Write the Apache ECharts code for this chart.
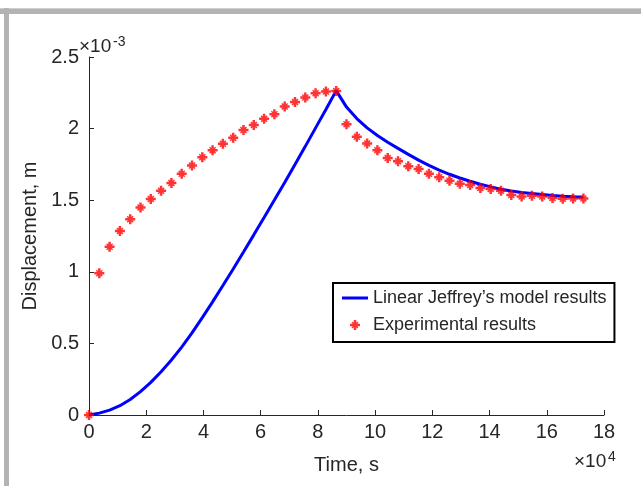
<!DOCTYPE html>
<html>
<head>
<meta charset="utf-8">
<script src="https://cdn.jsdelivr.net/npm/echarts@6/dist/echarts.min.js"></script>
<style>
  html, body { margin: 0; padding: 0; background: #fff; }
  #main { width: 641px; height: 486px; }
</style>
</head>
<body>
<div id="main"></div>
<script>
// time in units of 1e4 s (one point per hour)
var time = [0, 0.36, 0.72, 1.08, 1.44, 1.80, 2.16, 2.52, 2.88, 3.24, 3.60, 3.96, 4.32, 4.68, 5.04, 5.40, 5.76,
  6.12, 6.48, 6.84, 7.20, 7.56, 7.92, 8.28, 8.64, 9.00, 9.36, 9.72, 10.08, 10.44, 10.80, 11.16, 11.52, 11.88,
  12.24, 12.60, 12.96, 13.32, 13.68, 14.04, 14.40, 14.76, 15.12, 15.48, 15.84, 16.20, 16.56, 16.92, 17.28];

// displacement in units of 1e-3 m
var modelDisp = [0, 0.013, 0.034, 0.065, 0.108, 0.163, 0.228, 0.302, 0.384, 0.474, 0.573, 0.68, 0.79, 0.904,
  1.02, 1.138, 1.258, 1.379, 1.501, 1.624, 1.749, 1.876, 2.005, 2.134, 2.265, 2.15, 2.07, 2.005, 1.952, 1.905,
  1.862, 1.82, 1.78, 1.743, 1.71, 1.681, 1.655, 1.632, 1.611, 1.593, 1.577, 1.564, 1.554, 1.546, 1.539, 1.533,
  1.528, 1.524, 1.521];

var expDisp = [0, 0.99, 1.175, 1.285, 1.367, 1.449, 1.508, 1.566, 1.62, 1.685, 1.742, 1.80, 1.849, 1.894,
  1.936, 1.99, 2.025, 2.069, 2.10, 2.154, 2.186, 2.217, 2.247, 2.259, 2.263, 2.03, 1.943, 1.896, 1.849, 1.795,
  1.772, 1.737, 1.718, 1.685, 1.66, 1.636, 1.615, 1.606, 1.585, 1.578, 1.566, 1.536, 1.526, 1.531, 1.526,
  1.515, 1.51, 1.512, 1.512];

var seriesNames = ['Linear Jeffrey\u2019s model results', 'Experimental results'];

// bold asterisk marker (plus + shorter diagonals)
var asterisk = 'path://M7.5,0L12.5,0L12.5,20L7.5,20Z M0,7.5L20,7.5L20,12.5L0,12.5Z ' +
  'M3,5L5,3L17,15L15,17Z M15,3L17,5L5,17L3,15Z';
var lineIcon = 'path://M0,0L26,0L26,3L0,3Z';

function pairs(xs, ys) {
  return xs.map(function (x, i) { return [x, ys[i]]; });
}

var txt = '#262626';
var font = 'Liberation Sans, Arial, sans-serif';

var chart = echarts.init(document.getElementById('main'));
var option = {
  backgroundColor: '#fff',
  animation: false,
  textStyle: { fontFamily: font },
  grid: { left: 89, right: 37, top: 57, bottom: 71 },
  xAxis: {
    type: 'value',
    min: 0, max: 18, interval: 2,
    name: 'Time, s',
    nameLocation: 'middle',
    nameGap: 40,
    nameTextStyle: { color: txt, fontSize: 20, fontFamily: font },
    axisLine: { lineStyle: { color: txt, width: 1 } },
    axisTick: { inside: true, length: 5, lineStyle: { color: txt } },
    axisLabel: { color: txt, fontSize: 20, margin: 7, fontFamily: font },
    splitLine: { show: false }
  },
  yAxis: {
    type: 'value',
    min: 0, max: 2.5, interval: 0.5,
    name: 'Displacement, m',
    nameLocation: 'middle',
    nameGap: 46,
    nameTextStyle: { color: txt, fontSize: 20, fontFamily: font },
    axisLine: { show: true, lineStyle: { color: txt, width: 1 } },
    axisTick: { show: true, inside: true, length: 5, lineStyle: { color: txt } },
    axisLabel: { color: txt, fontSize: 20, margin: 10, fontFamily: font },
    splitLine: { show: false }
  },
  legend: {
    orient: 'vertical',
    left: 333, top: 283,
    padding: [6, 8, 8, 9],
    itemGap: 9,
    itemWidth: 26,
    itemHeight: 10,
    borderColor: '#000',
    borderWidth: 2,
    backgroundColor: '#fff',
    textStyle: { color: txt, fontSize: 18, fontFamily: font },
    data: [
      { name: seriesNames[0], icon: lineIcon },
      { name: seriesNames[1], icon: asterisk }
    ]
  },
  graphic: [
    { type: 'rect', shape: { x: 0, y: 8, width: 641, height: 6 }, style: { fill: '#b3b3b3' } },
    { type: 'rect', shape: { x: 0, y: 8, width: 641, height: 1 }, style: { fill: '#cfcfcf' } },
    { type: 'rect', shape: { x: 4, y: 8, width: 5, height: 478 }, style: { fill: '#b3b3b3' } },
    { type: 'text', left: 79, top: 37, style: { text: '\u00d710', fontSize: 19, fill: txt, fontFamily: font } },
    { type: 'text', left: 113, top: 35, style: { text: '-3', fontSize: 14, fill: txt, fontFamily: font } },
    { type: 'text', left: 574, top: 452, style: { text: '\u00d710', fontSize: 19, fill: txt, fontFamily: font } },
    { type: 'text', left: 608, top: 450, style: { text: '4', fontSize: 14, fill: txt, fontFamily: font } }
  ],
  series: [
    {
      name: seriesNames[0],
      type: 'line',
      data: pairs(time, modelDisp),
      showSymbol: false,
      symbol: 'none',
      lineStyle: { color: '#0000ff', width: 3 },
      itemStyle: { color: '#0000ff' },
      z: 2
    },
    {
      name: seriesNames[1],
      type: 'scatter',
      data: pairs(time, expDisp),
      symbol: asterisk,
      symbolSize: 10,
      itemStyle: { color: '#ff0000' },
      z: 3
    }
  ]
};
chart.setOption(option);
</script>
</body>
</html>
